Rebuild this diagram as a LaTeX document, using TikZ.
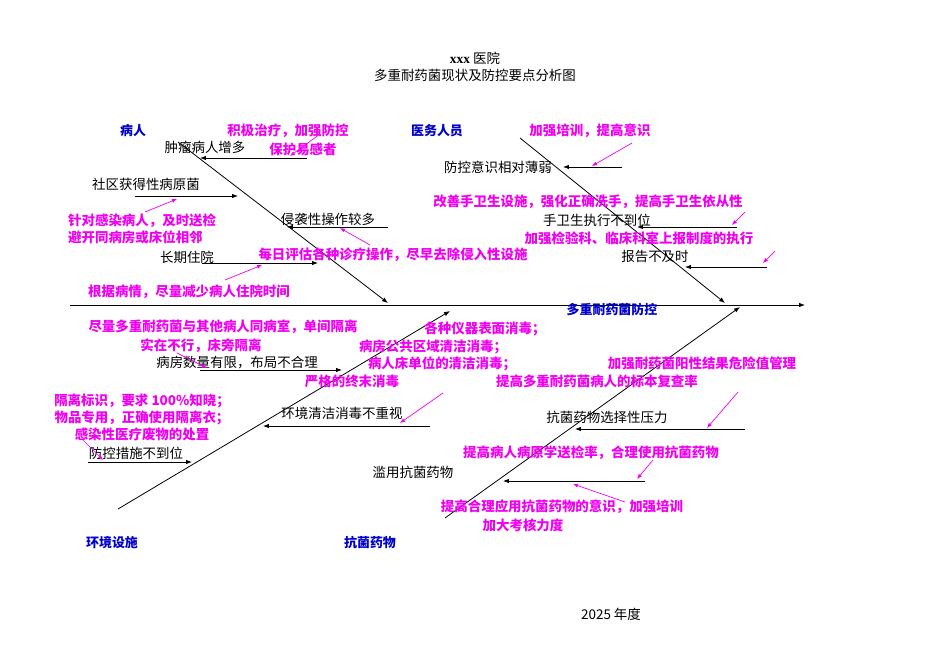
\documentclass[tikz,border=0pt]{standalone}
\usepackage{fontspec}
\setmainfont{Noto Sans CJK SC}
\newfontfamily\serifla{Liberation Serif}
\usetikzlibrary{arrows.meta}
\definecolor{fixpink}{RGB}{240,0,240}
\definecolor{groupblue}{RGB}{0,0,204}

\begin{document}
\begin{tikzpicture}[x=1bp,y=-1bp,
    cause/.style={font=\fontsize{13.5}{17}\selectfont, text=black, inner sep=0pt},
    fix/.style={font=\fontsize{13.5}{17}\selectfont\bfseries, text=fixpink, inner sep=0pt},
    group/.style={font=\fontsize{13}{15}\selectfont\bfseries, text=groupblue, inner sep=0pt},
    bone/.style={draw=black, line width=0.8pt, -{Latex[length=6pt,width=4.5pt]}},
    branch/.style={draw=black, line width=0.8pt, -{Latex[length=6pt,width=4.5pt]}},
    hint/.style={draw=fixpink, line width=0.7pt, -{Latex[length=5pt,width=4pt]}}]
    \useasboundingbox (0,0) rectangle (950,672);

    % Title and year
    \node[font=\fontsize{13.5}{16}\selectfont] (hosp) at (475,58) {{\serifla\bfseries xxx} 医院};
    \node[font=\fontsize{13.5}{16}\selectfont] (title) at (475,75) {多重耐药菌现状及防控要点分析图};
    \node[font=\fontsize{13.5}{16}\selectfont] (year) at (611,614) {2025 年度};

    % Spine and the four bones
    \coordinate (tail) at (70,305);  \coordinate (head) at (805,305);
    \coordinate (p0) at (178,142);   \coordinate (p1) at (388,303);
    \coordinate (s0) at (520,138);   \coordinate (s1) at (725,303);
    \coordinate (e0) at (118,509);   \coordinate (e1) at (450,311);
    \coordinate (a0) at (445,518);   \coordinate (a1) at (740,307);
    \draw[bone] (tail) -- (head);
    \draw[bone] (p0) -- (p1);
    \draw[bone] (s0) -- (s1);
    \draw[bone] (e0) -- (e1);
    \draw[bone] (a0) -- (a1);

    % Group labels
    \node[group] (patient) at (133,131) {病人};
    \node[group] (staff) at (437,131) {医务人员};
    \node[group] (env) at (112,543) {环境设施};
    \node[group] (drug) at (370,543) {抗菌药物};
    \node[group] (effect) at (612,310) {多重耐药菌防控};

    % Causes
    \node[cause] (tumor) at (205,147) {肿瘤病人增多};
    \node[cause] (community) at (146,184) {社区获得性病原菌};
    \node[cause] (invasive) at (328,219) {侵袭性操作较多};
    \node[cause] (longstay) at (187,257) {长期住院};
    \node[cause] (awareness) at (498,167) {防控意识相对薄弱};
    \node[cause] (handhyg) at (597,220) {手卫生执行不到位};
    \node[cause] (report) at (655,256) {报告不及时};
    \node[cause] (ward) at (237,363) {病房数量有限，布局不合理};
    \node[cause] (cleaning) at (342,413) {环境清洁消毒不重视};
    \node[cause] (measures) at (136,453) {防控措施不到位};
    \node[cause] (pressure) at (607,417) {抗菌药物选择性压力};
    \node[cause] (abuse) at (413,472) {滥用抗菌药物};

    % Cause arrows
    \coordinate (tumorS) at (307,158);     \coordinate (tumorE) at (200,158);
    \coordinate (commS) at (135,196);      \coordinate (commE) at (238,196);
    \coordinate (invS) at (388,227);       \coordinate (invE) at (287,227);
    \coordinate (stayS) at (202,263);      \coordinate (stayE) at (318,263);
    \coordinate (awS) at (622,167);        \coordinate (awE) at (563,167);
    \coordinate (handS) at (737,227);      \coordinate (handE) at (637,227);
    \coordinate (repS) at (767,267);       \coordinate (repE) at (685,267);
    \coordinate (wardS) at (200,370);      \coordinate (wardE) at (342,370);
    \coordinate (cleanS) at (430,426);     \coordinate (cleanE) at (263,426);
    \coordinate (measS) at (88,462);       \coordinate (measE) at (192,462);
    \coordinate (presS) at (745,429);      \coordinate (presE) at (575,429);
    \coordinate (abuseS) at (645,481);     \coordinate (abuseE) at (503,481);
    \draw[branch] (tumorS) -- (tumorE);
    \draw[branch] (commS) -- (commE);
    \draw[branch] (invS) -- (invE);
    \draw[branch] (stayS) -- (stayE);
    \draw[branch] (awS) -- (awE);
    \draw[branch] (handS) -- (handE);
    \draw[branch] (repS) -- (repE);
    \draw[branch] (wardS) -- (wardE);
    \draw[branch] (cleanS) -- (cleanE);
    \draw[branch] (measS) -- (measE);
    \draw[branch] (presS) -- (presE);
    \draw[branch] (abuseS) -- (abuseE);

    % Measures (magenta)
    \node[fix] (fixA) at (288,131) {积极治疗，加强防控};
    \node[fix] (fixB) at (303,149) {保护易感者};
    \node[fix, align=left, anchor=west] (fixC) at (68,228.5) {针对感染病人，及时送检\\避开同病房或床位相邻};
    \node[fix] (fixD) at (393,255) {每日评估各种诊疗操作，尽早去除侵入性设施};
    \node[fix] (fixE) at (189,292) {根据病情，尽量减少病人住院时间};
    \node[fix] (fixF) at (590,131) {加强培训，提高意识};
    \node[fix] (fixG) at (588,202) {改善手卫生设施，强化正确洗手，提高手卫生依从性};
    \node[fix] (fixH) at (639,238) {加强检验科、临床科室上报制度的执行};
    \node[fix] (fixI1) at (223,327) {尽量多重耐药菌与其他病人同病室，单间隔离};
    \node[fix] (fixI2) at (201,346) {实在不行，床旁隔离};
    \node[fix] (fixJ1) at (485,329) {各种仪器表面消毒；};
    \node[fix] (fixJ2) at (433,347) {病房公共区域清洁消毒；};
    \node[fix] (fixJ3) at (442,364) {病人床单位的清洁消毒；};
    \node[fix] (fixJ4) at (352,381) {严格的终末消毒};
    \node[fix, align=center] (fixK) at (142,417) {隔离标识，要求 100\%知晓；\\物品专用，正确使用隔离衣；\\感染性医疗废物的处置};
    \node[fix] (fixL) at (702,363) {加强耐药菌阳性结果危险值管理};
    \node[fix] (fixM) at (597,381) {提高多重耐药菌病人的标本复查率};
    \node[fix] (fixN) at (591,453) {提高病人病原学送检率，合理使用抗菌药物};
    \node[fix] (fixO1) at (562,507) {提高合理应用抗菌药物的意识，加强培训};
    \node[fix] (fixO2) at (523,525) {加大考核力度};

    % Measure pointers
    \coordinate (hA0) at (320,134);  \coordinate (hA1) at (290,156);
    \coordinate (hC0) at (145,212);  \coordinate (hC1) at (177,199);
    \coordinate (hD0) at (370,245);  \coordinate (hD1) at (340,228);
    \coordinate (hE0) at (225,280);  \coordinate (hE1) at (262,265);
    \coordinate (hF0) at (632,143);  \coordinate (hF1) at (592,166);
    \coordinate (hG0) at (745,212);  \coordinate (hG1) at (732,225);
    \coordinate (hH0) at (775,251);  \coordinate (hH1) at (763,263);
    \coordinate (hI0) at (177,353);  \coordinate (hI1) at (207,368);
    \coordinate (hJ0) at (443,393);  \coordinate (hJ1) at (400,423);
    \coordinate (hK0) at (83,440);   \coordinate (hK1) at (103,460);
    \coordinate (hL0) at (738,392);  \coordinate (hL1) at (707,428);
    \coordinate (hN0) at (653,460);  \coordinate (hN1) at (637,479);
    \coordinate (hO0) at (625,502);  \coordinate (hO1) at (573,484);
    \draw[hint] (hA0) -- (hA1);
    \draw[hint] (hC0) -- (hC1);
    \draw[hint] (hD0) -- (hD1);
    \draw[hint] (hE0) -- (hE1);
    \draw[hint] (hF0) -- (hF1);
    \draw[hint] (hG0) -- (hG1);
    \draw[hint] (hH0) -- (hH1);
    \draw[hint] (hI0) -- (hI1);
    \draw[hint] (hJ0) -- (hJ1);
    \draw[hint] (hK0) -- (hK1);
    \draw[hint] (hL0) -- (hL1);
    \draw[hint] (hN0) -- (hN1);
    \draw[hint] (hO0) -- (hO1);

\end{tikzpicture}
\end{document}
